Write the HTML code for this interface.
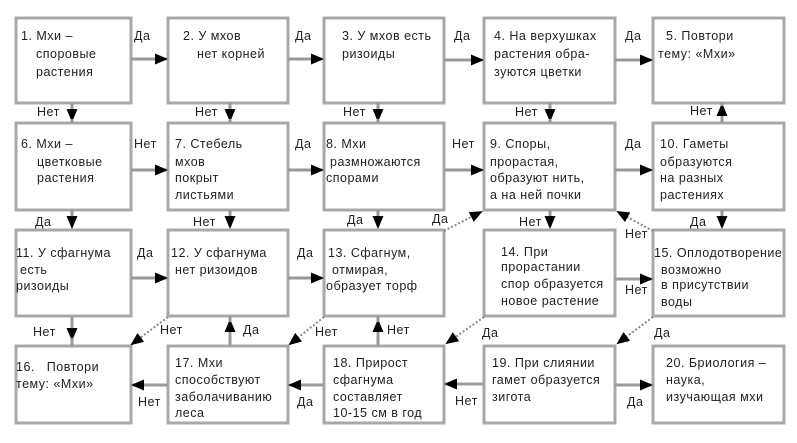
<!DOCTYPE html>
<html><head><meta charset="utf-8"><style>
html,body{margin:0;padding:0;background:#fff;}
svg{display:block;}
text{font-family:"Liberation Sans","DejaVu Sans",sans-serif;font-size:12.5px;letter-spacing:0.5px;fill:#222;}
.b{fill:#fff;stroke:#a8a8a8;stroke-width:3;}
.l{stroke:#999;stroke-width:3;fill:none;}
.d{stroke:#888;stroke-width:2;stroke-dasharray:2 2;fill:none;}
</style></head><body>
<svg width="797" height="443" viewBox="0 0 797 443" xmlns="http://www.w3.org/2000/svg">
<defs>
<marker id="ah" markerWidth="13" markerHeight="11" refX="11" refY="5.5" orient="auto" markerUnits="userSpaceOnUse">
<path d="M0,0 L13,5.5 L0,11 z" fill="#000"/>
</marker>
</defs>
<rect width="797" height="443" fill="#fff"/>

<!-- boxes -->
<rect class="b" x="16" y="18" width="115" height="85"/>
<rect class="b" x="168" y="18" width="120" height="85"/>
<rect class="b" x="324" y="18" width="120" height="85"/>
<rect class="b" x="484" y="18" width="131" height="85"/>
<rect class="b" x="653" y="18" width="131" height="85"/>

<rect class="b" x="16" y="123" width="115" height="87"/>
<rect class="b" x="168" y="123" width="120" height="87"/>
<rect class="b" x="324" y="123" width="120" height="87"/>
<rect class="b" x="484" y="123" width="131" height="87"/>
<rect class="b" x="653" y="123" width="131" height="87"/>

<rect class="b" x="16" y="230" width="115" height="86"/>
<rect class="b" x="168" y="230" width="120" height="86"/>
<rect class="b" x="324" y="230" width="120" height="86"/>
<rect class="b" x="484" y="230" width="131" height="86"/>
<rect class="b" x="653" y="230" width="131" height="86"/>

<rect class="b" x="16" y="346" width="115" height="77"/>
<rect class="b" x="168" y="346" width="120" height="77"/>
<rect class="b" x="324" y="346" width="120" height="77"/>
<rect class="b" x="484" y="346" width="131" height="77"/>
<rect class="b" x="653" y="346" width="131" height="77"/>

<!-- row 1 horizontal -->
<line class="l" x1="131" y1="59" x2="166" y2="59" marker-end="url(#ah)"/>
<line class="l" x1="288" y1="59" x2="322" y2="59" marker-end="url(#ah)"/>
<line class="l" x1="444" y1="60" x2="482" y2="60" marker-end="url(#ah)"/>
<line class="l" x1="615" y1="60" x2="651" y2="60" marker-end="url(#ah)"/>
<!-- row 2 horizontal -->
<line class="l" x1="131" y1="170" x2="166" y2="170" marker-end="url(#ah)"/>
<line class="l" x1="288" y1="170" x2="322" y2="170" marker-end="url(#ah)"/>
<line class="l" x1="444" y1="170" x2="482" y2="170" marker-end="url(#ah)"/>
<line class="l" x1="615" y1="170" x2="651" y2="170" marker-end="url(#ah)"/>
<!-- row 3 horizontal -->
<line class="l" x1="131" y1="278" x2="166" y2="278" marker-end="url(#ah)"/>
<line class="l" x1="288" y1="278" x2="322" y2="278" marker-end="url(#ah)"/>
<line class="l" x1="615" y1="279" x2="651" y2="279" marker-end="url(#ah)"/>
<!-- row 4 horizontal -->
<line class="l" x1="168" y1="385" x2="133" y2="385" marker-end="url(#ah)"/>
<line class="l" x1="324" y1="385" x2="290" y2="385" marker-end="url(#ah)"/>
<line class="l" x1="484" y1="384" x2="446" y2="384" marker-end="url(#ah)"/>
<line class="l" x1="615" y1="385" x2="651" y2="385" marker-end="url(#ah)"/>

<!-- row1->row2 verticals -->
<line class="l" x1="72" y1="103" x2="72" y2="120" marker-end="url(#ah)"/><line class="l" x1="72" y1="119" x2="72" y2="123"/>
<line class="l" x1="230" y1="103" x2="230" y2="120" marker-end="url(#ah)"/><line class="l" x1="230" y1="119" x2="230" y2="123"/>
<line class="l" x1="378" y1="103" x2="378" y2="120" marker-end="url(#ah)"/><line class="l" x1="378" y1="119" x2="378" y2="123"/>
<line class="l" x1="550" y1="103" x2="550" y2="120" marker-end="url(#ah)"/><line class="l" x1="550" y1="119" x2="550" y2="123"/>
<line class="l" x1="722" y1="123" x2="722" y2="105" marker-end="url(#ah)"/><line class="l" x1="722" y1="106" x2="722" y2="103"/>

<!-- row2->row3 verticals -->
<line class="l" x1="72" y1="210" x2="72" y2="227" marker-end="url(#ah)"/>
<line class="l" x1="230" y1="210" x2="230" y2="227" marker-end="url(#ah)"/>
<line class="l" x1="378" y1="210" x2="378" y2="227" marker-end="url(#ah)"/>
<line class="l" x1="550" y1="210" x2="550" y2="227" marker-end="url(#ah)"/>
<line class="l" x1="722" y1="210" x2="722" y2="227" marker-end="url(#ah)"/>

<!-- row3->row4 verticals -->
<line class="l" x1="72" y1="316" x2="72" y2="339" marker-end="url(#ah)"/><line class="l" x1="72" y1="338" x2="72" y2="346"/>
<line class="l" x1="230" y1="346" x2="230" y2="321" marker-end="url(#ah)"/><line class="l" x1="230" y1="322" x2="230" y2="316"/>
<line class="l" x1="378" y1="346" x2="378" y2="321" marker-end="url(#ah)"/><line class="l" x1="378" y1="322" x2="378" y2="316"/>

<!-- diagonals -->
<line class="d" x1="444" y1="231" x2="481" y2="212" marker-end="url(#ah)"/>
<line class="d" x1="653" y1="231" x2="618" y2="212" marker-end="url(#ah)"/>
<line class="d" x1="168" y1="317" x2="132" y2="344" marker-end="url(#ah)"/>
<line class="d" x1="324" y1="317" x2="290" y2="344" marker-end="url(#ah)"/>
<line class="d" x1="484" y1="317" x2="447" y2="343" marker-end="url(#ah)"/>
<line class="d" x1="653" y1="317" x2="618" y2="343" marker-end="url(#ah)"/>

<!-- box texts row 1 -->
<text x="21" y="40">1. Мхи –</text>
<text x="36" y="58">споровые</text>
<text x="36" y="76">растения</text>

<text x="183" y="40">2. У мхов</text>
<text x="197" y="58">нет корней</text>

<text x="342" y="40">3. У мхов есть</text>
<text x="342" y="58">ризоиды</text>

<text x="494" y="40">4. На верхушках</text>
<text x="494" y="58">растения обра-</text>
<text x="494" y="76">зуются цветки</text>

<text x="666" y="40">5. Повтори</text>
<text x="658" y="58">тему: «Мхи»</text>

<!-- row 2 -->
<text x="21" y="148">6. Мхи –</text>
<text x="37" y="166">цветковые</text>
<text x="37" y="182">растения</text>

<text x="175" y="148">7. Стебель</text>
<text x="175" y="166">мхов</text>
<text x="175" y="182">покрыт</text>
<text x="175" y="199">листьями</text>

<text x="326" y="148">8. Мхи</text>
<text x="330" y="166">размножаются</text>
<text x="326" y="182">спорами</text>

<text x="490" y="148">9. Споры,</text>
<text x="490" y="166">прорастая,</text>
<text x="490" y="182">образуют нить,</text>
<text x="490" y="199">а на ней почки</text>

<text x="660" y="148">10. Гаметы</text>
<text x="660" y="166">образуются</text>
<text x="660" y="182">на разных</text>
<text x="660" y="199">растениях</text>

<!-- row 3 -->
<text x="16" y="257">11. У сфагнума</text>
<text x="20" y="274">есть</text>
<text x="16" y="290">ризоиды</text>

<text x="171" y="257">12. У сфагнума</text>
<text x="175" y="274">нет ризоидов</text>

<text x="328" y="257">13. Сфагнум,</text>
<text x="332" y="274">отмирая,</text>
<text x="326" y="290">образует торф</text>

<text x="501" y="256">14. При</text>
<text x="501" y="271">прорастании</text>
<text x="501" y="288">спор образуется</text>
<text x="501" y="305">новое растение</text>

<text x="654" y="257">15. Оплодотворение</text>
<text x="661" y="274">возможно</text>
<text x="661" y="289">в присутствии</text>
<text x="661" y="306">воды</text>

<!-- row 4 -->
<text x="16" y="371" xml:space="preserve">16.   Повтори</text>
<text x="16" y="388">тему: «Мхи»</text>

<text x="175" y="367">17. Мхи</text>
<text x="175" y="384">способствуют</text>
<text x="175" y="401">заболачиванию</text>
<text x="175" y="417">леса</text>

<text x="333" y="367">18. Прирост</text>
<text x="333" y="384">сфагнума</text>
<text x="333" y="401">составляет</text>
<text x="333" y="417">10-15 см в год</text>

<text x="492" y="367">19. При слиянии</text>
<text x="492" y="384">гамет образуется</text>
<text x="492" y="401">зигота</text>

<text x="666" y="367">20. Бриология –</text>
<text x="666" y="384">наука,</text>
<text x="666" y="401">изучающая мхи</text>

<!-- connector labels -->
<text x="134" y="40">Да</text>
<text x="295" y="40">Да</text>
<text x="454" y="40">Да</text>
<text x="625" y="40">Да</text>

<text x="37" y="116">Нет</text>
<text x="195" y="116">Нет</text>
<text x="343" y="116">Нет</text>
<text x="515" y="116">Нет</text>
<text x="690" y="115">Нет</text>

<text x="134" y="148">Нет</text>
<text x="295" y="148">Да</text>
<text x="452" y="148">Нет</text>
<text x="625" y="148">Да</text>

<text x="35" y="226">Да</text>
<text x="193" y="226">Нет</text>
<text x="347" y="224">Да</text>
<text x="432" y="223">Да</text>
<text x="519" y="226">Нет</text>
<text x="625" y="238">Нет</text>
<text x="690" y="226">Да</text>

<text x="137" y="257">Да</text>
<text x="297" y="257">Да</text>
<text x="625" y="294">Нет</text>

<text x="33" y="336">Нет</text>
<text x="160" y="334">Нет</text>
<text x="243" y="334">Да</text>
<text x="315" y="336">Нет</text>
<text x="387" y="334">Нет</text>
<text x="482" y="337">Да</text>
<text x="654" y="337">Да</text>

<text x="138" y="406">Нет</text>
<text x="297" y="406">Да</text>
<text x="455" y="405">Нет</text>
<text x="627" y="406">Да</text>
</svg>
</body></html>
